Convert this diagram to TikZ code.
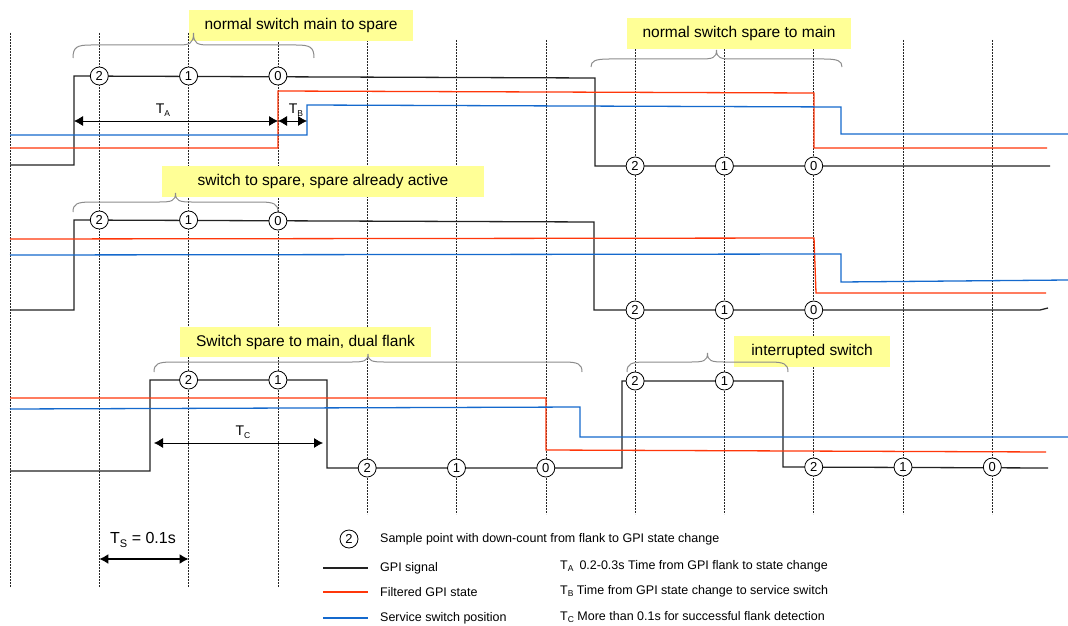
\documentclass[tikz,border=0pt]{standalone}
\usepackage{fontspec}
\setmainfont{Liberation Sans}
\usetikzlibrary{arrows.meta}
\definecolor{sigblack}{RGB}{34,34,34}
\definecolor{sigred}{RGB}{255,55,10}
\definecolor{sigblue}{RGB}{20,105,205}
\definecolor{boxyellow}{RGB}{255,255,150}
\definecolor{bracegray}{RGB}{140,140,140}
\newcommand\tsub[1]{\raisebox{-0.4ex}{\fontsize{8.5}{8.5}\selectfont #1}}
\newcommand\mybrace[5]{%
  \pgfmathsetmacro\bmid{(#1+#2)/2}%
  \draw[bracestyle] (#1,#3) .. controls (#1,{#4+2}) and ({#1+4},#4) .. ({#1+18},#4)
    -- ({\bmid-16},#4) .. controls ({\bmid-4},#4) and (\bmid,{#4-1}) .. (\bmid,#5)
    .. controls (\bmid,{#4-1}) and ({\bmid+4},#4) .. ({\bmid+16},#4)
    -- ({#2-18},#4) .. controls ({#2-4},#4) and (#2,{#4+2}) .. (#2,#3);}
\begin{document}
\begin{tikzpicture}[x=1pt,y=-1pt,
  vline/.style={line width=0.6pt, dash pattern=on 1.8pt off 1.2pt, black!85},
  sig/.style={line width=1.3pt, line join=miter},
  gpi/.style={sig, sigblack},
  filt/.style={sig, sigred},
  serv/.style={sig, sigblue},
  cnt/.style={circle, draw=black, line width=0.8pt, fill=white, inner sep=0pt, minimum size=18pt, font=\fontsize{13}{13}\selectfont},
  lbl/.style={fill=boxyellow, inner sep=0pt, font=\fontsize{15.5}{16}\selectfont},
  bracestyle/.style={draw=bracegray, line width=1pt},
  tarrow/.style={line width=0.8pt, {Latex[length=9pt,width=10pt]}-{Latex[length=9pt,width=10pt]}},
  tlab/.style={font=\fontsize{14}{14}\selectfont, inner sep=0pt},
  leg/.style={font=\fontsize{12.5}{13}\selectfont, anchor=west, inner sep=0pt},
]
\useasboundingbox (0,0) rectangle (1068,626);
\fill[white] (0,0) rectangle (1068,626);

% sample grid lines
\foreach \i in {0,...,3} {
  \pgfmathsetmacro\xx{10+89.3*\i}
  \draw[vline] (\xx,33) -- (\xx,587);
}
\foreach \i in {4,...,11} {
  \pgfmathsetmacro\xx{10+89.3*\i}
  \draw[vline] (\xx,40) -- (\xx,514);
}

% label boxes
\node[lbl, minimum width=224pt, minimum height=31pt] (b1) at (301,25.5) {normal switch main to spare};
\node[lbl, minimum width=224pt, minimum height=31pt] (b2) at (739,33.5) {normal switch spare to main};
\node[lbl, minimum width=322pt, minimum height=31pt] (b3) at (323,181.5) {switch to spare, spare already active};
\node[lbl, minimum width=251pt, minimum height=30pt] (b4) at (305.5,342) {Switch spare to main, dual flank};
\node[lbl, minimum width=156pt, minimum height=31pt] (b5) at (812,351.5) {interrupted switch};

% braces
\mybrace{73}{314}{58}{45}{33}
\mybrace{591}{842}{67}{59}{50}
\mybrace{73}{278}{212}{202}{193}
\mybrace{154}{582}{372}{362}{354}
\mybrace{627}{788}{372}{362}{353}

% section 1
\draw[gpi] (10,165) -- (74,165) -- (74,76) -- (595,78) -- (595,166) -- (1050,166);
\draw[filt] (10,148) -- (278,148) -- (278,91) -- (814,93) -- (814,148) -- (1047,148);
\draw[serv] (10,135) -- (307,135) -- (307,105) -- (841,107) -- (841,134) -- (1068,134);
% section 2
\draw[gpi] (10,310) -- (74,310) -- (74,220) -- (594,222) -- (594,310) -- (1040,310) -- (1048,308);
\draw[filt] (10,239) -- (814,238) -- (816,293) -- (1046,293);
\draw[serv] (10,255) -- (841,254) -- (841,282) -- (1068,280);
% section 3
\draw[gpi] (10,471) -- (150,471) -- (150,380) -- (327,380) -- (327,468) -- (622,468) -- (622,381) -- (783,381) -- (783,467) -- (1048,468);
\draw[filt] (10,398) -- (546,398) -- (546,450) -- (1046,452);
\draw[serv] (10,409) -- (580,407) -- (580,437) -- (1068,437);

% sample points
\node[cnt] (a2) at (99.3,76) {2};
\node[cnt] (a1) at (188.6,76) {1};
\node[cnt] (a0) at (277.9,76) {0};
\node[cnt] (b2c) at (635.1,166) {2};
\node[cnt] (b1c) at (724.4,166) {1};
\node[cnt] (b0c) at (813.7,166) {0};
\node[cnt] (c2) at (99.3,220) {2};
\node[cnt] (c1) at (188.6,220) {1};
\node[cnt] (c0) at (277.9,221) {0};
\node[cnt] (d2) at (635.1,310) {2};
\node[cnt] (d1) at (724.4,310) {1};
\node[cnt] (d0) at (813.7,310) {0};
\node[cnt] (e2) at (188.6,380) {2};
\node[cnt] (e1) at (277.9,380) {1};
\node[cnt] (f2) at (367.2,468) {2};
\node[cnt] (f1) at (456.5,468) {1};
\node[cnt] (f0) at (545.8,468) {0};
\node[cnt] (g2) at (635.1,381) {2};
\node[cnt] (g1) at (724.4,381) {1};
\node[cnt] (h2) at (813.7,467) {2};
\node[cnt] (h1) at (903,467) {1};
\node[cnt] (h0) at (992.3,467) {0};

% timing arrows
\coordinate (taL) at (74,121);
\coordinate (taR) at (278,121);
\coordinate (tbR) at (307,121);
\draw[tarrow] (taL) -- (taR);
\draw[tarrow] (taR) -- (tbR);
\node[tlab] (lTA) at (163,110) {T\tsub{A}};
\node[tlab] (lTB) at (296,110) {T\tsub{B}};
\coordinate (tcL) at (154,443);
\coordinate (tcR) at (323,443);
\draw[tarrow] (tcL) -- (tcR);
\node[tlab] (lTC) at (243,432) {T\tsub{C}};
\coordinate (tsL) at (99.3,559);
\coordinate (tsR) at (188.6,559);
\draw[tarrow, line width=1.6pt] (tsL) -- (tsR);
\node[font=\fontsize{16}{16}\selectfont, inner sep=0pt] (lTS) at (143,540) {T\raisebox{-0.45ex}{\fontsize{11}{11}\selectfont S} = 0.1s};

% legend
\node[cnt] (legc) at (349,539) {2};
\node[leg] (leg0) at (380,539) {Sample point with down-count from flank to GPI state change};
\coordinate (lk1) at (323,568); \coordinate (lk2) at (368,568);
\draw[gpi, line width=1.1pt] (lk1) -- (lk2);
\node[leg] (leg1) at (380,568) {GPI signal};
\coordinate (lr1) at (323,592); \coordinate (lr2) at (368,592);
\draw[filt, line width=1.1pt] (lr1) -- (lr2);
\node[leg] (leg2) at (380,592) {Filtered GPI state};
\coordinate (lb1) at (323,618); \coordinate (lb2) at (368,618);
\draw[serv, line width=1.1pt] (lb1) -- (lb2);
\node[leg] (leg3) at (380,618) {Service switch position};
\node[leg] (legA) at (560,566) {T\tsub{A}\hspace{6pt}0.2-0.3s Time from GPI flank to state change};
\node[leg] (legB) at (560,591) {T\tsub{B} Time from GPI state change to service switch};
\node[leg] (legC) at (560,617) {T\tsub{C} More than 0.1s for successful flank detection};
\end{tikzpicture}
\end{document}
